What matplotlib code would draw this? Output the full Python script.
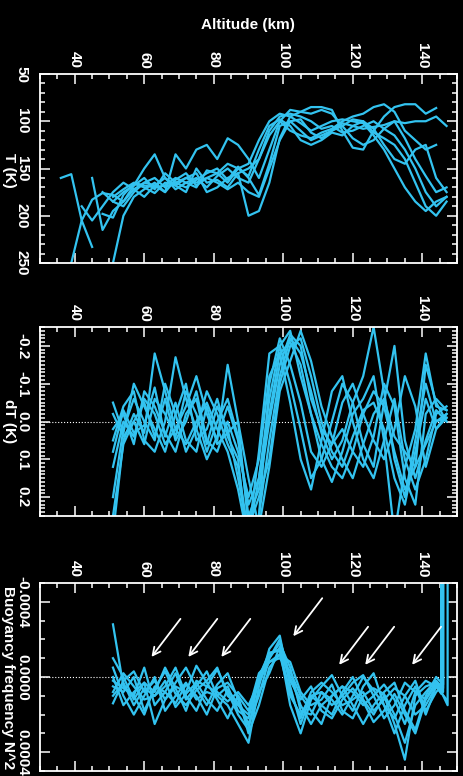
import numpy as np
import matplotlib
matplotlib.use('Agg')
import matplotlib.pyplot as plt
from matplotlib.ticker import MultipleLocator, FormatStrFormatter

nan = np.nan

# temperature profiles, altitude 36..147 km every 3 km
alt_T = np.arange(36, 148, 3)
T_prof = [
    [160, 156, 205, 233] + [nan] * 34,
    [nan, 250, 205, 183, 176, 178, 185, 172, 165, 168, 160, 172, 165, 160, 170, 158, 150, 160, 165,
     140, 110, 95, 92, 95, 100, 108, 105, 112, 110, 105, 100, 108, 115, 130, 150, 175, 190, 180],
    [nan, nan, nan, nan, nan, 250, 200, 180, 172, 165, 175, 162, 155, 168, 160, 165, 172, 165, 175,
     180, 150, 120, 100, 98, 112, 118, 110, 105, 98, 100, 112, 118, 125, 140, 165, 190, 200, 185],
    [nan, nan, nan, 160, 215, 195, 185, 168, 150, 135, 160, 168, 160, 155, 175, 170, 160, 155, 200,
     195, 165, 118, 95, 90, 92, 88, 92, 105, 118, 125, 120, 108, 100, 118, 140, 158, 175, 170],
    [nan, nan, 190, 205, 190, 175, 165, 172, 180, 168, 175, 135, 150, 130, 125, 140, 118, 125, 140,
     160, 130, 100, 88, 90, 85, 85, 88, 110, 128, 130, 110, 95, 85, 82, 82, 92, 86, nan],
    [nan, nan, nan, nan, 198, 202, 178, 166, 170, 176, 165, 168, 175, 150, 165, 162, 170, 155, 150,
     140, 115, 100, 110, 115, 118, 112, 108, 100, 95, 92, 85, 82, 90, 110, 120, 130, 125, nan],
    [nan, nan, nan, nan, nan, 185, 175, 168, 160, 172, 155, 165, 170, 162, 155, 150, 162, 148, 160,
     178, 145, 105, 100, 110, 120, 115, 110, 102, 105, 108, 106, 104, 100, 102, 100, 100, 95, 105],
    [nan, nan, nan, nan, nan, 180, 172, 165, 168, 170, 168, 160, 165, 170, 152, 155, 145, 150, 158,
     130, 105, 98, 105, 120, 125, 120, 112, 115, 105, 100, 108, 125, 140, 145, 130, 125, 160, 175],
    [nan, nan, nan, nan, 175, 185, 190, 175, 165, 160, 170, 165, 160, 165, 160, 155, 165, 150, 145,
     120, 100, 92, 95, 102, 110, 105, 100, 98, 100, 102, 115, 130, 150, 170, 185, 195, 185, 180],
]

# temperature perturbations, altitude 51..147 km every 3 km
alt_dT = np.arange(51, 148, 3)
dT_prof = [
    [0.30, 0.05, -0.02, 0.03, -0.18, -0.08, 0.02, 0.06, 0.00, -0.05, 0.02, 0.08, 0.18, 0.32, 0.25, 0.05, -0.12,
     -0.22, -0.18, -0.08, 0.03, 0.10, 0.05, -0.05, -0.12, -0.25, -0.08, 0.10, 0.20, 0.05, -0.10, 0.00, -0.02],
    [0.20, 0.02, -0.06, 0.00, 0.05, -0.10, -0.02, 0.08, 0.02, -0.08, -0.02, 0.06, 0.12, 0.30, 0.15, -0.06, -0.20,
     -0.24, -0.12, -0.02, 0.06, 0.12, 0.15, 0.08, -0.02, -0.08, -0.04, 0.08, 0.18, 0.12, -0.15, -0.05, 0.00],
    [0.05, -0.04, -0.08, 0.05, 0.08, 0.00, -0.17, -0.06, 0.02, 0.10, 0.04, -0.04, 0.05, 0.22, 0.15, -0.02, -0.18,
     -0.21, -0.15, -0.02, 0.10, 0.16, 0.08, -0.02, -0.06, -0.12, 0.05, 0.30, 0.12, 0.02, -0.18, -0.04, -0.03],
    [0.12, 0.00, 0.04, -0.06, -0.02, 0.06, 0.02, -0.04, -0.12, -0.02, 0.05, -0.15, 0.00, 0.28, 0.20, 0.10, -0.10,
     -0.20, -0.22, -0.12, 0.00, 0.08, 0.12, 0.04, -0.03, -0.05, 0.02, 0.15, 0.22, 0.08, -0.06, 0.02, -0.01],
    [-0.05, 0.03, -0.10, -0.04, 0.02, 0.08, -0.02, -0.10, 0.05, 0.02, -0.06, 0.04, 0.10, 0.35, 0.25, -0.10, -0.22,
     -0.15, -0.05, 0.08, 0.12, 0.06, -0.05, -0.10, -0.02, 0.05, 0.10, 0.02, -0.12, -0.04, 0.12, 0.02, -0.02],
    [0.02, -0.02, 0.06, -0.08, -0.04, 0.03, 0.08, -0.02, -0.06, 0.06, -0.04, 0.02, 0.15, 0.30, 0.08, -0.18, -0.20,
     -0.10, 0.02, 0.15, 0.10, 0.00, -0.10, -0.05, 0.06, 0.12, -0.05, -0.20, 0.05, 0.15, 0.05, -0.03, 0.00],
    [0.25, 0.06, 0.00, -0.05, 0.04, -0.06, 0.05, 0.00, -0.08, 0.05, 0.08, 0.00, 0.08, 0.20, 0.10, -0.12, -0.18,
     -0.05, 0.10, 0.18, 0.05, -0.08, -0.12, 0.00, 0.10, 0.15, 0.05, -0.06, 0.10, 0.18, 0.10, -0.02, -0.04],
    [-0.02, 0.04, 0.00, 0.06, -0.06, -0.02, 0.04, -0.08, -0.02, 0.08, 0.00, -0.06, 0.04, 0.25, 0.18, 0.00, -0.15,
     -0.23, -0.20, -0.06, 0.02, 0.06, 0.02, 0.08, 0.12, 0.04, -0.10, -0.04, 0.15, 0.22, -0.02, -0.06, -0.03],
    [0.08, -0.03, 0.03, 0.01, -0.09, 0.04, -0.05, 0.05, 0.08, -0.04, 0.06, 0.03, 0.00, 0.15, 0.28, 0.12, -0.08,
     -0.16, -0.24, -0.16, -0.04, 0.04, 0.10, 0.15, 0.06, -0.02, -0.06, 0.04, 0.08, 0.12, 0.06, 0.00, -0.01],
]

# N^2 profiles in units of 1e-4, altitude 51..144 km every 3 km
alt_N2 = np.arange(51, 145, 3)
N2_prof = [
    [-2.8, 0.5, 1.0, -0.5, 1.5, 0.8, -0.2, 1.2, 0.5, -0.3, 1.0, 1.5, 2.5, 3.5, 0.5, -1.5, -2.2,
     0.5, 2.5, 1.0, 1.5, 2.0, 0.8, 0.0, 1.2, 2.0, 1.0, 2.5, 4.4, 1.0, 0.5, 0.3],
    [-1.0, 0.0, 1.2, 0.3, 0.8, -0.5, 0.6, 1.8, 0.2, 0.5, -0.4, 0.8, 2.0, 2.8, 0.0, -1.2, -1.5,
     1.5, 3.0, 1.2, 0.5, -0.1, 1.0, 1.8, 0.5, -0.2, 1.5, 3.0, 1.5, 0.5, 2.0, 0.5],
    [1.4, 0.2, -0.3, 0.8, 0.2, 1.2, 0.3, -0.5, 0.6, 1.5, 0.4, -0.2, 1.2, 2.5, 1.0, -1.0, -1.8,
     -0.5, 1.8, 2.0, 0.8, 1.5, 1.0, 0.3, -0.1, 1.0, 2.2, 1.5, 0.3, 0.8, 1.2, 0.2],
    [0.5, 0.8, 0.0, 1.8, 0.6, -0.3, 0.9, 1.5, 0.7, 0.2, -0.5, 1.0, 1.5, 2.0, 0.2, -0.8, -1.0,
     -0.3, 1.0, 1.8, 2.5, 1.0, 0.5, 1.5, 2.5, 1.5, 0.8, 0.3, 1.8, 2.8, 1.0, 0.0],
    [0.0, 1.5, 0.8, 0.3, 2.5, 1.2, 0.5, 0.8, -0.6, 0.3, 1.2, 2.2, 1.0, 3.0, 1.5, -0.5, -1.2,
     -0.8, 0.8, 1.5, 1.2, 0.4, 1.8, 2.2, 1.0, 0.6, 0.9, 2.0, 3.5, 1.5, 0.8, 0.2],
    [-0.5, 1.0, 2.0, 1.0, 0.0, 1.8, 1.0, 0.3, 1.2, 0.8, 1.0, 0.5, 1.8, 2.2, 0.0, -1.3, -1.4,
     0.8, 2.2, 0.8, 0.3, 0.8, 1.5, 1.2, 0.8, 1.8, 1.2, 0.6, 1.0, 2.0, 1.5, 0.5],
    [1.0, 0.3, 1.5, 0.6, 1.0, 0.5, -0.5, 1.0, 1.8, 0.5, 0.8, 1.3, 0.8, 1.5, 0.3, -1.0, -2.0,
     0.0, 1.5, 2.5, 1.5, 1.0, 0.5, 0.8, 1.5, 1.0, 0.4, 1.2, 2.5, 0.8, 0.2, 0.5],
    [0.2, 0.6, 1.0, 2.0, 0.5, 0.8, 1.4, 0.4, 1.0, 2.0, 0.6, 0.3, 1.0, 1.8, -0.2, -0.8, -1.2,
     1.0, 2.0, 1.0, 0.8, 1.2, 2.0, 1.0, 0.0, 0.7, 1.5, 2.2, 1.0, 0.2, 1.8, 0.8],
    [0.8, -0.2, 0.5, 1.2, 1.0, 0.2, 1.6, 0.9, 0.3, 1.2, 1.8, 0.7, 1.4, 2.6, 0.8, -0.2, -1.6,
     0.2, 1.2, 0.5, 1.8, 2.2, 1.2, 0.6, 1.3, 2.4, 1.8, 0.9, 2.0, 3.0, 1.2, 0.4],
]
# last good point of each N^2 profile, and the top value where it blows up
N2_end_alt = [145.5, 146.0, 147.3, 145.5, 146.0, 145.5, 147.0, 146.0, 145.5]
N2_end_val = [0.5, 0.8, 1.5, 0.3, 0.6, 0.9, 1.2, 0.4, 0.7]
N2_top_val = [-60, -60, -60, -60, -60, -60, nan, -60, -60]

# arrow tips marking wave minima (altitude km, N^2 in 1e-4)
arrow_alt = [61.6, 72.2, 81.7, 102.4, 115.6, 123.1, 136.6]
arrow_N2 = [-0.95, -0.95, -0.95, -2.05, -0.53, -0.53, -0.53]

blue = '#33c3f0'
plt.rcParams['font.family'] = ['Liberation Sans', 'DejaVu Sans']
plt.rcParams['font.weight'] = 'bold'
plt.rcParams['font.size'] = 11

fig = plt.figure(figsize=(4.63, 7.76), dpi=100, facecolor='black')
W = 463.0; H = 776.0


def make_axes(top, bottom):
    ax = fig.add_axes([40 / W, 1 - bottom / H, 417 / W, (bottom - top) / H])
    ax.set_facecolor('black')
    for s in ax.spines.values():
        s.set_color('white'); s.set_linewidth(1.3)
    ax.set_xlim(30, 150)
    ax.xaxis.set_major_locator(MultipleLocator(20))
    ax.xaxis.set_minor_locator(MultipleLocator(5))
    ax.tick_params(which='both', direction='in', colors='white', top=True, bottom=True,
                   left=True, right=True, labeltop=True, labelbottom=False, width=1.1)
    ax.tick_params(which='major', length=7)
    ax.tick_params(which='minor', length=3.5)
    ax.tick_params(axis='x', labelrotation=-90, pad=4)
    ax.tick_params(axis='y', labelrotation=-90, pad=8)
    return ax


def fix_labels(ax):
    for lab in ax.get_yticklabels():
        lab.set_va('center')
        lab.set_ha('right')


ax1 = make_axes(74, 263)
for t in T_prof:
    ax1.plot(alt_T, t, color=blue, lw=1.6)
ax1.set_ylim(250, 50)
ax1.yaxis.set_major_locator(MultipleLocator(50))
ax1.yaxis.set_minor_locator(MultipleLocator(10))
fix_labels(ax1)

ax2 = make_axes(327, 516)
ax2.axhline(0, color='white', ls=':', lw=0.8)
for d in dT_prof:
    ax2.plot(alt_dT, d, color=blue, lw=1.6)
ax2.set_ylim(0.25, -0.25)
ax2.yaxis.set_major_locator(MultipleLocator(0.1))
ax2.yaxis.set_minor_locator(MultipleLocator(0.01))
ax2.yaxis.set_major_formatter(FormatStrFormatter('%.1f'))
fix_labels(ax2)

ax3 = make_axes(583, 771)
ax3.axhline(0, color='white', ls=':', lw=0.8)
for i in range(len(N2_prof)):
    a = list(alt_N2) + [N2_end_alt[i], N2_end_alt[i]]
    n = N2_prof[i] + [N2_end_val[i], N2_top_val[i]]
    ax3.plot(a, np.array(n) * 1e-4, color=blue, lw=1.6)
ax3.set_ylim(0.0005, -0.0005)
ax3.yaxis.set_major_locator(MultipleLocator(0.0004))
ax3.yaxis.set_minor_locator(MultipleLocator(0.0001))
ax3.yaxis.set_major_formatter(FormatStrFormatter('%.4f'))
fix_labels(ax3)

for a, n in zip(arrow_alt, arrow_N2):
    ax3.annotate('', xy=(a, n * 1e-4), xytext=(a + 9.3, (n - 2.26) * 1e-4),
                 arrowprops=dict(arrowstyle='->', color='white', lw=1.3, mutation_scale=14))

fig.text(248 / W, 1 - 25 / H, 'Altitude (km)', color='white', ha='center', va='center')
fig.text(9 / W, 1 - 170 / H, 'T (K)', color='white', rotation=-90, ha='center', va='center')
fig.text(9 / W, 1 - 421 / H, 'dT (K)', color='white', rotation=-90, ha='center', va='center')
fig.text(8 / W, 1 - 678 / H, 'Buoyancy frequency N^2', color='white', rotation=-90,
         ha='center', va='center')

fig.savefig('out.png', dpi=100, facecolor='black')
